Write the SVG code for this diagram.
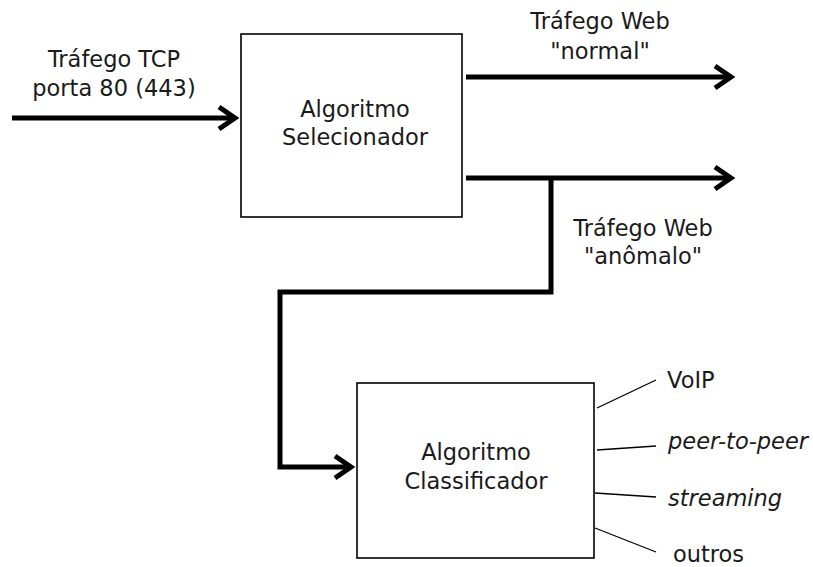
<svg xmlns="http://www.w3.org/2000/svg" width="813" height="567" viewBox="0 0 813 567">
<style>
text{font-family:"DejaVu Sans","Liberation Sans",sans-serif;font-size:22.5px;fill:#1a1a1a}
.c{text-anchor:middle}
.i{font-style:italic}
.box{fill:#fff;stroke:#000;stroke-width:1.6}
.flow{fill:none;stroke:#000;stroke-width:5;stroke-linejoin:miter}
.thin{fill:none;stroke:#000;stroke-width:1.3}
</style>
<defs>
<marker id="arr" markerUnits="userSpaceOnUse" markerWidth="40" markerHeight="40" viewBox="-25 -20 35 40" refX="0" refY="0" orient="auto">
<path d="M -16 -11 L 0 0 L -16 11" fill="none" stroke="#000" stroke-width="5" stroke-linejoin="miter"/>
</marker>
</defs>
<rect width="813" height="567" fill="#fff"/>
<g id="connectors">
<path class="flow" d="M 12 118 H 235" marker-end="url(#arr)"/>
<path class="flow" d="M 466 77 H 731" marker-end="url(#arr)"/>
<path class="flow" d="M 466 178 H 731" marker-end="url(#arr)"/>
<path class="flow" d="M 551 178 V 292 H 280 V 467 H 351" marker-end="url(#arr)"/>
<path class="thin" d="M 597 408 L 656 380"/>
<path class="thin" d="M 597 450 L 656 446"/>
<path class="thin" d="M 595 493 L 656 497"/>
<path class="thin" d="M 595 528 L 656 552"/>
</g>
<g id="label-input">
<text class="c" x="114" y="67">Tráfego TCP</text>
<text class="c" x="114" y="96">porta 80 (443)</text>
</g>
<g id="selecionador">
<rect class="box" x="241" y="34" width="221" height="183"/>
<text class="c" x="355" y="117">Algoritmo</text>
<text class="c" x="355" y="145">Selecionador</text>
</g>
<g id="label-normal">
<text class="c" x="600" y="29">Tráfego Web</text>
<text class="c" x="600" y="59">"normal"</text>
</g>
<g id="label-anomalo">
<text class="c" x="643" y="236">Tráfego Web</text>
<text class="c" x="643" y="264">"anômalo"</text>
</g>
<g id="classificador">
<rect class="box" x="357" y="383" width="237" height="175"/>
<text class="c" x="476" y="460">Algoritmo</text>
<text class="c" x="476" y="489">Classificador</text>
</g>
<g id="classes">
<text x="667" y="388">VoIP</text>
<text class="i" x="668" y="449">peer-to-peer</text>
<text class="i" x="668" y="506">streaming</text>
<text x="673" y="562">outros</text>
</g>
</svg>
